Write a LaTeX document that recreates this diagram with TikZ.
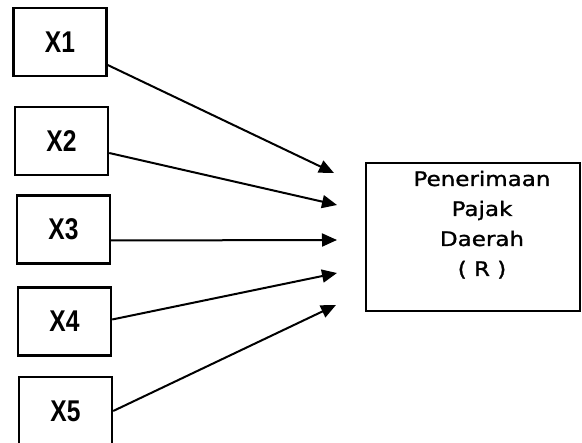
\documentclass[tikz,border=0pt]{standalone}
\usepackage{fontspec}
\setmainfont{DejaVu Sans}
\newfontfamily\xfont{Liberation Sans}
\newfontfamily\rfont[FakeBold=1.2]{DejaVu Sans}
\usetikzlibrary{arrows.meta,calc}
\newcommand{\xlab}[1]{\scalebox{0.82}[1]{#1}}
\begin{document}
\begin{tikzpicture}[x=1pt,y=-1pt,
  xbox/.style={draw=black,line width=2.4pt,minimum width=93pt,minimum height=68pt,inner sep=0pt,
    font=\xfont\bfseries\fontsize{30}{34}\selectfont},
  rbox/.style={draw=black,line width=2.2pt,minimum width=214pt,minimum height=148pt,inner sep=0pt},
  rtext/.style={inner sep=0pt,font=\rfont\fontsize{20}{30}\selectfont},
  conn/.style={line width=2pt,-{Triangle[length=15pt,width=13pt]}}]
\useasboundingbox[fill=white] (0,0) rectangle (582,443);
\node[xbox] (x1) at (60,42) {\xlab{X1}};
\node[xbox] (x2) at (61.5,141) {\xlab{X2}};
\node[xbox] (x3) at (63.5,229.5) {\xlab{X3}};
\node[xbox] (x4) at (64.5,321.5) {\xlab{X4}};
\node[xbox] (x5) at (65.5,411) {\xlab{X5}};
\node[rbox] (r) at (473,237) {};
\node[rtext] (rt) at ([xshift=9pt,yshift=12pt]r.center) {\scalebox{1.15}[1]{\begin{tabular}{@{}c@{}}Penerimaan\\Pajak\\Daerah\\( R )\end{tabular}}};
\coordinate (e1) at (334,173);
\coordinate (e2) at (337,205);
\coordinate (e3) at (337,240);
\coordinate (e4) at (337,273);
\coordinate (e5) at (336,305);
\draw[conn] ([yshift=-23pt]x1.east) -- (e1);
\draw[conn] ([yshift=-12pt]x2.east) -- (e2);
\draw[conn] ([yshift=-11pt]x3.east) -- (e3);
\draw[conn] ([yshift=2pt]x4.east) -- (e4);
\draw[conn] (x5.east) -- (e5);
\end{tikzpicture}
\end{document}
